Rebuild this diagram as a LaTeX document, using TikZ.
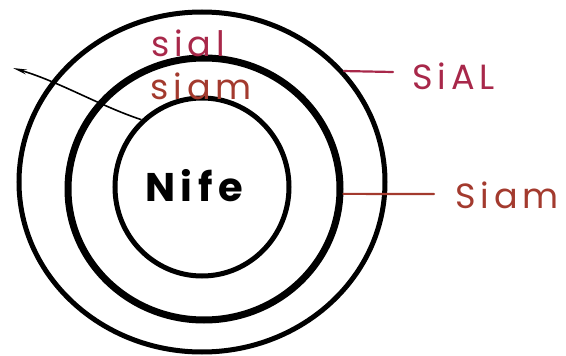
\documentclass[tikz,border=0pt]{standalone}
\usepackage{fontspec}
\setmainfont{Poppins}
\newfontfamily\handfont[LetterSpace=14]{Poppins}
\usetikzlibrary{arrows.meta,positioning,shapes.geometric}
\definecolor{sialRed}{HTML}{A8284A}
\definecolor{siamRed}{HTML}{A33A2E}

\begin{document}
\begin{tikzpicture}[x=1pt, y=-1pt,
      layer/.style={ellipse, draw=black, inner sep=0pt, line width=#1},
      lbl/.style={font=\handfont\fontsize{35}{36}\selectfont, inner sep=0pt},
      ptr/.style={line width=2.2pt, line cap=round}]
    \useasboundingbox (0,0) rectangle (566,356);
    % the three layers
    \node[layer=5pt, minimum width=366pt, minimum height=340pt] (sialc) at (202,182) {};
    \node[layer=7pt, minimum width=272pt, minimum height=262pt] (siamc) at (204,189) {};
    \node[layer=5pt, minimum width=174pt, minimum height=178pt] (nifec) at (202,187) {};

    \node[font=\handfont\fontsize{40}{42}\selectfont\bfseries, inner sep=0pt] (nife) at (194,186) {Nife};
    \node[lbl, text=sialRed] (sialin) at (188,43) {sial};
    \node[lbl, text=siamRed] (siamin) at (201,86) {siam};

    % labels on the right
    \coordinate (sialend) at (393,72);
    \coordinate (siamend) at (434,194);
    \node[lbl, text=sialRed, anchor=west] (sialout) at (412,76) {SiAL};
    \node[lbl, text=siamRed, anchor=west] (siamout) at (455,195) {Siam};

    \draw[ptr, sialRed] (sialc.38) -- (sialend);
    \draw[ptr, siamRed] (siamc.-2) -- (siamend);

    % pointer from the left
    \coordinate (lefttip) at (13,68);
    \draw[line width=1.6pt, {Stealth[length=14pt, width=5pt]}-]
      (lefttip) .. controls (60,82) and (100,106) .. (nifec.132);
  \end{tikzpicture}
\end{document}
